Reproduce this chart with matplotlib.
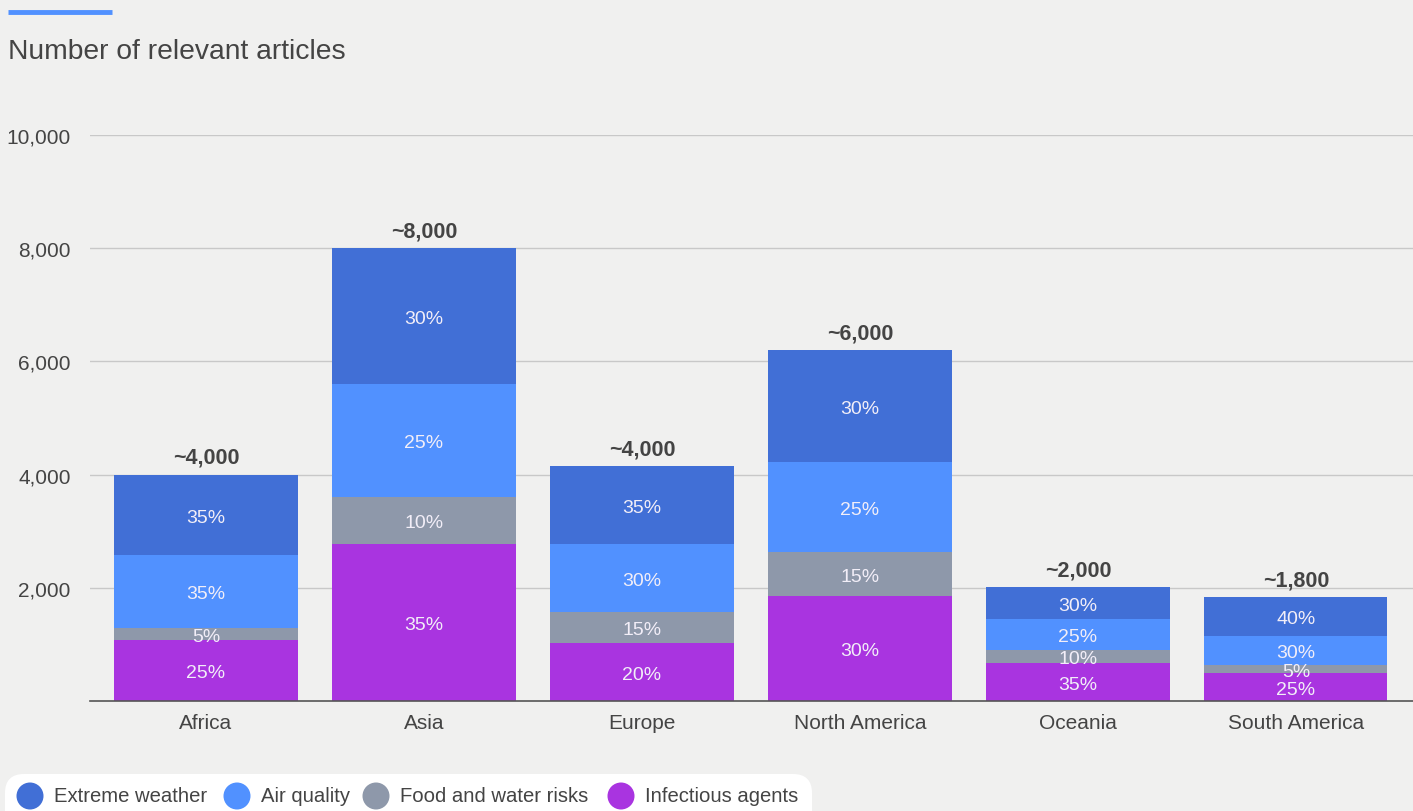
import matplotlib.pyplot as plt
from matplotlib.lines import Line2D
from matplotlib.patches import FancyBboxPatch, Circle
from matplotlib.transforms import IdentityTransform
import numpy as np

regions = ["Africa", "Asia", "Europe", "North America", "Oceania", "South America"]
series_names = ["Infectious agents", "Food and water risks", "Air quality", "Extreme weather"]
infectious = [1080, 2770, 1025, 1855, 670, 495]
food_water = [210, 830, 550, 780, 230, 140]
air_quality = [1290, 2000, 1200, 1590, 550, 510]
extreme = [1420, 2400, 1380, 1980, 565, 690]
pct_infectious = ["25%", "35%", "20%", "30%", "35%", "25%"]
pct_food = ["5%", "10%", "15%", "15%", "10%", "5%"]
pct_air = ["35%", "25%", "30%", "25%", "25%", "30%"]
pct_extreme = ["35%", "30%", "35%", "30%", "30%", "40%"]
totals_label = ["~4,000", "~8,000", "~4,000", "~6,000", "~2,000", "~1,800"]

colors = ["#a934e0", "#8e98aa", "#5191ff", "#416fd6"]
bg = "#f0f0ef"
txt = "#444444"

plt.rcParams['font.family'] = ['Liberation Sans', 'DejaVu Sans']

W, H = 1413, 812
fig = plt.figure(figsize=(W / 100, H / 100), dpi=100, facecolor=bg)
ax = fig.add_axes([90 / W, 1 - 702 / H, 1 - 90 / W, (702 - 136) / H])
ax.set_facecolor(bg)

x = np.arange(len(regions))
width = 0.84
stacks = [infectious, food_water, air_quality, extreme]
pcts = [pct_infectious, pct_food, pct_air, pct_extreme]
bottom = np.zeros(len(regions))
for vals, labels, c in zip(stacks, pcts, colors):
    vals = np.array(vals, dtype=float)
    ax.bar(x, vals, width, bottom=bottom, color=c, zorder=2)
    for i in range(len(regions)):
        ax.text(x[i], bottom[i] + vals[i] / 2 - 40, labels[i], ha='center', va='center',
                color='#f2eef8', fontsize=14, zorder=3)
    bottom += vals

for i in range(len(regions)):
    ax.text(x[i], bottom[i] + 120, totals_label[i], ha='center', va='bottom',
            color=txt, fontsize=15.5, fontweight='bold')

ax.set_xlim(-0.532, 5.537)
ax.set_ylim(0, 10000)
ax.set_yticks([2000, 4000, 6000, 8000, 10000])
ax.set_yticklabels(["2,000", "4,000", "6,000", "8,000", "10,000"])
ax.yaxis.grid(True, color="#c8c8c8", linewidth=1, zorder=0)
ax.set_axisbelow(True)
ax.set_xticks(x)
ax.set_xticklabels(regions)
ax.tick_params(axis='both', length=0, labelsize=15, labelcolor=txt)
ax.tick_params(axis='y', pad=14)
ax.tick_params(axis='x', pad=9)
for s in ["top", "right", "left"]:
    ax.spines[s].set_visible(False)
ax.spines["bottom"].set_color("#555555")
ax.spines["bottom"].set_linewidth(1.2)

fig.text(8 / W, 1 - 52 / H, "Number of relevant articles", fontsize=20.3,
         color=txt, va='center', ha='left')
fig.add_artist(Line2D([8 / W, 112 / W], [1 - 13 / H, 1 - 13 / H],
                      color="#5191ff", linewidth=3.5, solid_capstyle='butt'))

# legend drawn in pixel coordinates
px = IdentityTransform()
fig.add_artist(FancyBboxPatch((5, -30), 807, 67, boxstyle="round,pad=0,rounding_size=19",
                              facecolor='white', edgecolor='none', transform=px))
legend_names = ["Extreme weather", "Air quality", "Food and water risks", "Infectious agents"]
legend_colors = ["#416fd6", "#5191ff", "#8e98aa", "#a934e0"]
legend_x = [30, 237, 376, 621]
for lx, name, c in zip(legend_x, legend_names, legend_colors):
    fig.add_artist(Circle((lx, 15), 13.5, facecolor=c, edgecolor='none', transform=px))
    fig.text(lx + 24, 15, name, transform=px, fontsize=14.6, color=txt,
             va='center', ha='left')

fig.savefig("out.png", dpi=100, facecolor=bg)
